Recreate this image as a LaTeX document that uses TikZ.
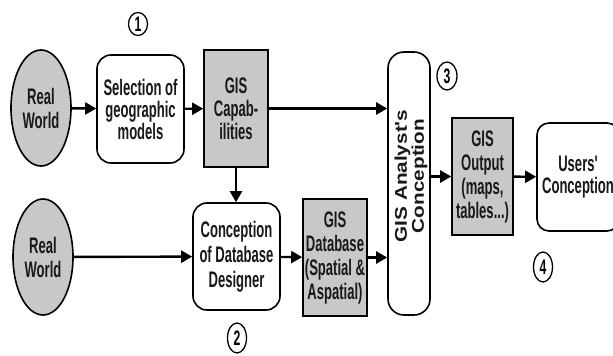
\documentclass[tikz,border=0pt]{standalone}
\usepackage{fontspec}
\setmainfont{Liberation Sans}
\newfontfamily\condfont[FakeStretch=0.58]{Liberation Sans}
\newfontfamily\widefont[FakeStretch=1.22]{Liberation Sans}
\usetikzlibrary{shapes.geometric,arrows.meta}
\definecolor{boxgray}{RGB}{200,200,200}
\begin{document}
\begin{tikzpicture}[x=1pt,y=-1pt,
  txt/.style={font=\condfont\bfseries\fontsize{22.5}{23}\selectfont, align=center, inner sep=0pt, text=black!90},
  world/.style={txt, ellipse, draw, line width=1.6pt, fill=boxgray, minimum width=60pt, minimum height=116pt},
  whitebox/.style={txt, draw, line width=1.6pt, fill=white, rounded corners=14pt},
  graybox/.style={txt, draw, line width=1.6pt, fill=boxgray},
  numcirc/.style={ellipse, draw, line width=1.3pt, inner sep=0pt, minimum width=19pt, font=\condfont\bfseries\fontsize{21}{21}\selectfont},
  conn/.style={line width=2.4pt, -{Triangle[length=11pt,width=12pt]}}
]
\clip (0,0) rectangle (613,356);
\fill[white] (0,0) rectangle (613,356);

% top row
\node[world] (rw1) at (41,108) {Real\\[1pt]World};
\node[whitebox, minimum width=87pt, minimum height=108pt, font=\condfont\bfseries\fontsize{22.5}{22}\selectfont] (sel) at (140.5,109) {Selection of\\geographic\\models};
\node[graybox, minimum width=64pt, minimum height=117pt] (cap) at (236,108.5) {GIS\\Capab-\\ilities};

% bottom row
\node[world] (rw2) at (43,257) {Real\\[1pt]World};
\node[whitebox, minimum width=87pt, minimum height=107pt, font=\condfont\bfseries\fontsize{22.5}{25}\selectfont] (con) at (236.5,256.5) {Conception\\of Database\\Designer};
\node[graybox, minimum width=64pt, minimum height=117pt, font=\condfont\bfseries\fontsize{22.5}{24}\selectfont] (db) at (335,257.5) {GIS\\Database\\(Spatial \&\\Aspatial)};

% analyst
\node[draw, line width=1.6pt, fill=white, rounded corners=16pt, minimum width=42pt, minimum height=263pt, inner sep=0pt] (ana) at (409,183.5) {};
\node[rotate=90, align=center, inner sep=0pt, font=\widefont\bfseries\fontsize{17}{13.5}\selectfont, text=black!90] (anatext) at (411,176) {GIS Analyst's\\Conception};

% output & users
\node[graybox, minimum width=61pt, minimum height=117pt, font=\condfont\bfseries\fontsize{22.5}{24}\selectfont] (out) at (482.5,176.5) {GIS\\Output\\(maps,\\tables...)};
\node[whitebox, minimum width=82pt, minimum height=108pt, rounded corners=12pt, font=\condfont\bfseries\fontsize{22.5}{22}\selectfont] (usr) at (578,177) {Users'\\Conception};

% numbers
\node[numcirc, minimum height=23pt] (n1) at (138,24) {1};
\node[numcirc, minimum height=30pt] (n2) at (237,338) {2};
\node[numcirc, minimum height=28pt, minimum width=20pt] (n3) at (447,76) {3};
\node[numcirc, minimum height=30pt] (n4) at (543,267) {4};

% connectors
\draw[conn] (rw1) -- (sel);
\draw[conn] (sel) -- (cap);
\draw[conn] (cap.east) -- (cap.east -| ana.west);
\draw[conn] (cap.south) -- (cap.south |- con.north);
\draw[conn] (rw2) -- (con);
\draw[conn] (con) -- (db);
\draw[conn] (db.east) -- (db.east -| ana.west);
\draw[conn] (out.west -| ana.east) -- (out.west);
\draw[conn] (out) -- (usr);
\end{tikzpicture}
\end{document}
